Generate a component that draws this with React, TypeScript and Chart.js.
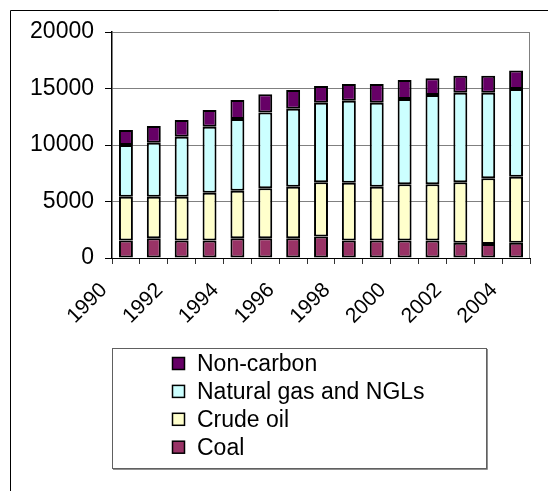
import { useEffect, useRef } from 'react';
import { Chart, registerables } from 'chart.js';

Chart.register(...registerables);

const years = ['1990', '1991', '1992', '1993', '1994', '1995', '1996', '1997', '1998', '1999', '2000', '2001', '2002', '2003', '2004'];
const coal = [1550, 1750, 1550, 1550, 1750, 1750, 1750, 1900, 1550, 1550, 1550, 1550, 1350, 1250, 1350];
const crudeOil = [3875, 3675, 3875, 4230, 4210, 4415, 4560, 4800, 5120, 4760, 4970, 4970, 5350, 5800, 5850];
const naturalGas = [4575, 4780, 5310, 5840, 6350, 6710, 6900, 7045, 7250, 7435, 7550, 7905, 7930, 7580, 7755];
const nonCarbon = [1330, 1475, 1475, 1475, 1670, 1620, 1650, 1475, 1475, 1650, 1680, 1475, 1490, 1490, 1645];
const yMin = 0;
const yMax = 20000;
const yStep = 5000;
const seriesNames = ['Coal', 'Crude oil', 'Natural gas and NGLs', 'Non-carbon'];
const seriesColors = ['#993366', '#FFFFCC', '#CCFFFF', '#660066'];

const FONT = "'Liberation Sans', Arial, sans-serif";

const framePlugin = {
  id: 'frameAndLegend',
  afterDraw(chart: any) {
    const ctx = chart.ctx;
    const area = chart.chartArea;
    ctx.save();
    // plot area right border
    ctx.strokeStyle = '#808080';
    ctx.lineWidth = 1;
    ctx.beginPath();
    ctx.moveTo(Math.round(area.right) - 0.5, area.top);
    ctx.lineTo(Math.round(area.right) - 0.5, area.bottom);
    ctx.stroke();
    // outer frame
    ctx.strokeStyle = '#000';
    ctx.beginPath();
    ctx.moveTo(10.5, 491);
    ctx.lineTo(10.5, 10.5);
    ctx.lineTo(548, 10.5);
    ctx.stroke();
    // legend box
    ctx.strokeStyle = '#606060';
    ctx.lineWidth = 1;
    ctx.strokeRect(112.5, 348.5, 374, 120);
    ctx.strokeStyle = '#909090';
    ctx.beginPath();
    ctx.moveTo(113, 469.5);
    ctx.lineTo(487.5, 469.5);
    ctx.lineTo(487.5, 349);
    ctx.stroke();
    // legend entries (reversed order)
    ctx.font = `23px ${FONT}`;
    ctx.textBaseline = 'middle';
    ctx.textAlign = 'left';
    for (let i = 0; i < seriesNames.length; i++) {
      const idx = seriesNames.length - 1 - i;
      const y = 363.5 + 27.9 * i;
      ctx.fillStyle = seriesColors[idx];
      ctx.fillRect(172.5, y - 6, 12, 12);
      ctx.strokeStyle = '#000';
      ctx.lineWidth = 1.5;
      ctx.strokeRect(172.5, y - 6, 12, 12);
      ctx.fillStyle = '#000';
      ctx.fillText(seriesNames[idx], 197, y + 1);
    }
    ctx.restore();
  },
};

export default function App() {
  const ref = useRef<HTMLCanvasElement | null>(null);
  useEffect(() => {
    if (!ref.current) return;
    const values = [coal, crudeOil, naturalGas, nonCarbon];
    const chart = new Chart(ref.current, {
      type: 'bar',
      data: {
        labels: years,
        datasets: values.map((v, i) => ({
          label: seriesNames[i],
          data: v,
          backgroundColor: seriesColors[i],
          borderColor: '#000',
          borderWidth: 2,
          borderSkipped: false,
          barPercentage: 0.5,
          categoryPercentage: 1,
        })),
      },
      options: {
        responsive: false,
        animation: false,
        devicePixelRatio: 1,
        layout: { padding: { top: 32, right: 3, left: 0, bottom: 0 } },
        plugins: {
          legend: { display: false },
          tooltip: { enabled: false },
          title: { display: false },
        },
        scales: {
          x: {
            stacked: true,
            grid: { display: true, drawOnChartArea: false, tickLength: 6, tickColor: '#333', offset: true },
            border: { color: '#000', width: 1 },
            ticks: {
              autoSkip: false,
              maxRotation: 45,
              minRotation: 45,
              labelOffset: -22,
              padding: 14,
              color: '#000',
              font: { family: FONT, size: 21 },
              callback: (_v: any, i: number) => (i % 2 === 0 ? years[i] : ''),
            },
            afterFit: (s: any) => { s.height = 233; },
          },
          y: {
            stacked: true,
            min: yMin,
            max: yMax,
            grid: { color: '#808080', lineWidth: 1, tickLength: 7, tickColor: '#000' },
            border: { color: '#000', width: 1.5 },
            ticks: {
              stepSize: yStep,
              padding: 11,
              color: '#000',
              font: { family: FONT, size: 23 },
              callback: (v: any) => String(v),
            },
            afterFit: (s: any) => { s.width = 112; },
          },
        },
      },
      plugins: [framePlugin],
    });
    return () => chart.destroy();
  }, []);
  return (
    <div style={{ position: 'absolute', left: 0, top: 0, width: 548, height: 491, background: '#fff' }}>
      <canvas ref={ref} width={548} height={491} style={{ display: 'block' }} />
    </div>
  );
}
